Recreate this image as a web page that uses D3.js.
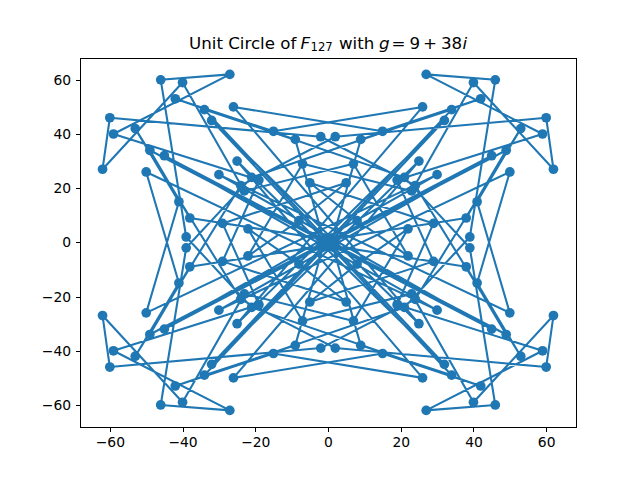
<!DOCTYPE html>
<html><head><meta charset="utf-8">
<script src="https://cdn.jsdelivr.net/npm/d3@7/dist/d3.min.js"></script>
<style>html,body{margin:0;padding:0;background:#fff}svg{display:block}</style>
</head><body><svg id="c" width="640" height="480"></svg>
<script>
const reals = [1,9,34,-32,25,-26,15,42,-21,-39,-46,-27,-59,-19,-29,5,-8,-22,-7,23,40,62,60,2,-24,-53,-41,-50,30,-45,49,38,
0,-38,-49,45,-30,50,41,53,24,-2,-60,-62,-40,-23,7,22,8,-5,29,19,59,27,46,39,21,-42,-15,26,-25,32,-34,-9,
-1,-9,-34,32,-25,26,-15,-42,21,39,46,27,59,19,29,-5,8,22,7,-23,-40,-62,-60,-2,24,53,41,50,-30,45,-49,-38,
0,38,49,-45,30,-50,-41,-53,-24,2,60,62,40,23,-7,-22,-8,5,-29,-19,-59,-27,-46,-39,-21,42,15,-26,25,-32,34,9,1];
const imags = [0,38,49,-45,30,-50,-41,-53,-24,2,60,62,40,23,-7,-22,-8,5,-29,-19,-59,-27,-46,-39,-21,42,15,-26,25,-32,34,9,
1,9,34,-32,25,-26,15,42,-21,-39,-46,-27,-59,-19,-29,5,-8,-22,-7,23,40,62,60,2,-24,-53,-41,-50,30,-45,49,38,
0,-38,-49,45,-30,50,41,53,24,-2,-60,-62,-40,-23,7,22,8,-5,29,19,59,27,46,39,21,-42,-15,26,-25,32,-34,-9,
-1,-9,-34,32,-25,26,-15,-42,21,39,46,27,59,19,29,-5,8,22,7,-23,-40,-62,-60,-2,24,53,41,50,-30,45,-49,-38,0];
const tickValues = [-60,-40,-20,0,20,40,60];
const domainLimit = 68.2;
const titleParts = [
  ['Unit Circle of',189,'normal',16.67,48.5],
  ['F',300.5,'italic',16.67,48.5],
  ['127',310.5,'normal',11.67,51],
  ['with',339,'normal',16.67,48.5],
  ['g',379,'italic',16.67,48.5],
  ['=',391.5,'normal',16.67,48.5],
  ['9',409.5,'normal',16.67,48.5],
  ['+',423,'normal',16.67,48.5],
  ['38',441,'normal',16.67,48.5],
  ['i',462.5,'italic',16.67,48.5]
];

const L=80,R=576,T=57.6,B=427.2;
const svg=d3.select('#c');
const font='"DejaVu Sans"';
const x=d3.scaleLinear().domain([-domainLimit,domainLimit]).range([L,R]);
const y=d3.scaleLinear().domain([-domainLimit,domainLimit]).range([B,T]);
const pts=reals.map((r,k)=>[r,imags[k]]);
const color='#1f77b4';
svg.append('defs').append('clipPath').attr('id','ax').append('rect')
  .attr('x',L).attr('y',T).attr('width',R-L).attr('height',B-T);
const g=svg.append('g').attr('clip-path','url(#ax)');
g.append('path').attr('d',d3.line().x(d=>x(d[0])).y(d=>y(d[1]))(pts))
  .attr('fill','none').attr('stroke',color).attr('stroke-width',2.083).attr('stroke-linejoin','round');
g.selectAll('circle').data(pts).join('circle')
  .attr('cx',d=>x(d[0])).attr('cy',d=>y(d[1])).attr('r',4.86).attr('fill',color);
svg.append('rect').attr('x',80.5).attr('y',58.5).attr('width',496).attr('height',369)
  .attr('fill','none').attr('stroke','#000').attr('stroke-width',1).attr('shape-rendering','crispEdges');
const fmt=d=>d<0?'\u2212'+(-d):''+d;
const ax=svg.append('g').attr('transform','translate(0,427.5)')
  .call(d3.axisBottom(x).tickValues(tickValues).tickFormat(fmt).tickSize(4.86).tickPadding(4.5));
const ay=svg.append('g').attr('transform','translate(80.5,0)')
  .call(d3.axisLeft(y).tickValues(tickValues).tickFormat(fmt).tickSize(4.86).tickPadding(4.5));
[ax,ay].forEach(a=>{a.select('.domain').remove();
  a.selectAll('line').attr('stroke','#000').attr('stroke-width',1).attr('shape-rendering','crispEdges');
  a.selectAll('text').attr('font-family',font).attr('font-size',13.89).attr('fill','#000');});
svg.append('g').selectAll('text').data(titleParts).join('text')
  .attr('x',d=>d[1]).attr('y',d=>d[4]).attr('font-style',d=>d[2]).attr('font-size',d=>d[3])
  .attr('font-family',font).attr('fill','#000').text(d=>d[0]);
</script></body></html>
